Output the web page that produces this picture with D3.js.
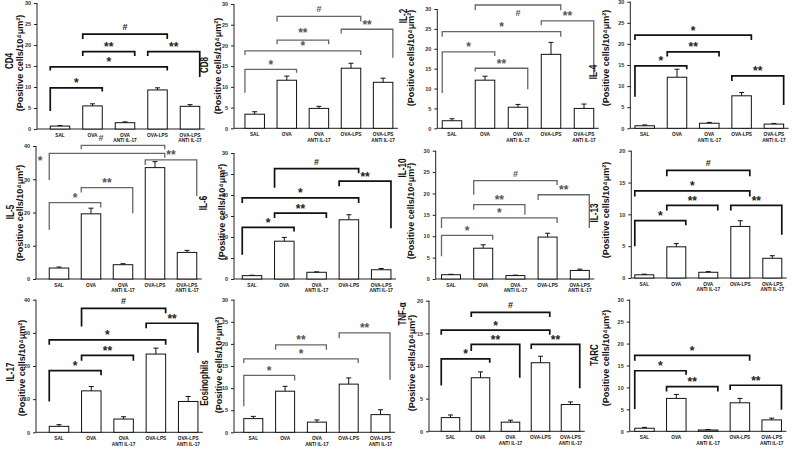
<!DOCTYPE html>
<html><head><meta charset="utf-8">
<script src="https://cdn.jsdelivr.net/npm/d3@7"></script>
<style>body{margin:0;background:#fff}svg{display:block}text{font-family:Arial,"Liberation Sans",sans-serif;font-weight:bold}</style>
</head><body><svg id="c" width="797" height="449"></svg>
<script>
const categories = ["SAL","OVA","OVA\nANTI IL-17","OVA-LPS","OVA-LPS\nANTI IL-17"];
const yUnit = "(Positive cells/10⁴μm²)";

const cd4Mean=[0.7,5.5,1.5,9.3,5.4],    cd4Err=[0.1,0.5,0.2,0.5,0.4];
const cd8Mean=[3.4,11.6,4.8,14.5,11.1], cd8Err=[0.6,1.0,0.5,1.2,1.0];
const il2Mean=[1.9,12.1,5.3,18.6,5.0],  il2Err=[0.5,1.0,0.7,3.0,1.1];
const il4Mean=[0.6,12.1,1.2,7.7,1.0],   il4Err=[0.2,1.9,0.2,0.8,0.15];
const il5Mean=[3.3,19.6,4.3,33.5,8.0],  il5Err=[0.3,1.7,0.3,1.8,0.6];
const il6Mean=[0.8,9.0,1.6,14.1,2.2],   il6Err=[0.1,0.9,0.1,1.2,0.3];
const il10Mean=[1.0,7.2,0.8,9.8,2.0],   il10Err=[0.1,0.8,0.1,0.9,0.3];
const il13Mean=[0.5,4.9,0.9,8.1,3.1],   il13Err=[0.1,0.5,0.1,0.9,0.4];
const il17Mean=[1.8,12.5,4.0,23.6,9.3], il17Err=[0.5,1.3,0.7,1.8,1.5];
const eosMean=[3.1,9.3,2.3,10.9,4.0],   eosErr=[0.5,1.1,0.5,1.4,1.1];
const tnfMean=[2.1,8.2,1.4,10.5,4.1],   tnfErr=[0.4,0.9,0.3,1.0,0.4];
const tarcMean=[0.7,7.5,0.3,6.5,2.6],   tarcErr=[0.2,0.9,0.1,1.0,0.4];

const ticks30=[0,5,10,15,20,25,30], ticks40=[0,10,20,30,40], ticks20=[0,5,10,15,20];

// [label, fromGroup, toGroup, level, leftFoot, rightFoot]
const cd4Sig=[["*",0,1,9.8,4.3,8.9],["*",0,3,14.8,13.9,13.9],["**",1,2,18.4,17.4,17.4],["#",1,3,22.6,21.4,21.4],["**",3,4,18.4,17.4,12.4]];
const cd8Sig=[["*",0,1,14.2,8.6,13.4],["*",0,3,18.7,17.7,17.7],["**",1,2,21.3,20.3,20.3],["#",1,3,27.0,25.8,25.8],["**",3,4,23.9,22.9,17]];
const il2Sig=[["*",0,1,19.2,8.9,18.2],["**",1,2,15.1,14.3,9.8],["*",0,3,24.3,23.0,23.0],["#",1,3,31.0,29.7,29.7],["**",3,4,27.0,25.9,13]];
const il4Sig=[["*",0,1,14.8,7.5,14.0],["**",1,2,18.1,17.0,17.0],["*",0,3,22.1,20.9,20.9],["**",3,4,12.4,11.2,5.5]];
const il5Sig=[["*",0,1,23.0,14.8,21.5],["**",1,2,27.5,26.0,19.8],["*",0,3,37.8,29.8,36.5],["#",1,3,40.2,39,39],["**",3,4,35.8,34.3,25]];
const il6Sig=[["*",0,1,12.3,5.8,11.3],["**",1,2,15.7,14.5,14.5],["*",0,3,19.3,18.1,18.1],["#",1,3,26.3,21.7,25.2],["**",3,4,23.3,22.1,12.1]];
const il10Sig=[["*",0,1,10.2,5.3,9.2],["*",0,3,14.3,11.9,13.1],["**",1,2,17.4,16.2,15.0],["#",1,3,23.0,19.7,22.0],["**",3,4,19.7,18.5,11.9]];
const il13Sig=[["*",0,1,9.0,5.0,8.3],["**",1,2,11.4,10.6,10.6],["*",0,3,13.7,12.8,12.8],["#",1,3,16.9,16.0,16.0],["**",3,4,11.4,10.6,6.8]];
const il17Sig=[["*",0,1,18.6,9.3,17.2],["**",1,2,23.2,21.6,21.6],["*",0,3,27.9,26.4,26.4],["#",1,3,37.4,31.9,35.9],["**",3,4,32.9,31.4,24]];
const eosSig=[["*",0,1,12.9,5.9,11.7],["*",0,3,16.6,15.7,15.7],["**",1,2,19.8,18.7,18.7],["**",3,4,22.5,21.3,11.9]];
const tnfSig=[["*",0,1,11.1,7.0,10.5],["**",1,2,13.3,12.3,8.2],["*",0,3,15.5,14.8,14.8],["#",1,3,18.2,17.5,17.5],["**",3,4,13.3,12.6,6.6]];
const tarcSig=[["*",0,1,13.8,5.1,12.9],["**",1,2,10.2,9.1,9.1],["*",0,3,17.3,16.1,16.1],["**",3,4,10.5,9.4,4.9]];

// layout (positions / styles only)
const BLK="#111", GRY="#666";
const panels=[
 {t:"CD4",m:cd4Mean,e:cd4Err,tk:ticks30,s:cd4Sig,ax:37,y0:129,yt:3,off:23,st:32.5,bw:19.5,c:BLK,tp:[9,61],sp:[20,63]},
 {t:"CD8",m:cd8Mean,e:cd8Err,tk:ticks30,s:cd8Sig,ax:234,y0:128.3,yt:4,off:20.7,st:32.1,bw:19.5,c:GRY,tp:[204,65],sp:[218,66],lo:{2:[0,-2.5]}},
 {t:"IL-2",m:il2Mean,e:il2Err,tk:ticks30,s:il2Sig,ax:437.3,y0:128.3,yt:9,off:14.7,st:33,bw:19.5,c:GRY,tp:[403,16],sp:[411,58],lo:{3:[0,15]}},
 {t:"IL-4",m:il4Mean,e:il4Err,tk:ticks30,s:il4Sig,ax:630.3,y0:128.3,yt:1.7,off:14.4,st:32.3,bw:19.5,c:BLK,tp:[593,72],sp:[606,58]},
 {t:"IL-5",m:il5Mean,e:il5Err,tk:ticks40,s:il5Sig,ax:36,y0:279,yt:146,off:23,st:32,bw:19.5,c:GRY,tp:[10,212],sp:[20,213],lo:{2:[-67,12],3:[-22,0]}},
 {t:"IL-6",m:il6Mean,e:il6Err,tk:ticks30,s:il6Sig,ax:234,y0:279,yt:153,off:18,st:32.3,bw:19.5,c:BLK,tp:[203,203],sp:[222,212]},
 {t:"IL-10",m:il10Mean,e:il10Err,tk:ticks30,s:il10Sig,ax:435.7,y0:279,yt:150.7,off:15.3,st:32.2,bw:19,c:GRY,tp:[402,168],sp:[411,211]},
 {t:"IL-13",m:il13Mean,e:il13Err,tk:ticks20,s:il13Sig,ax:631.3,y0:278,yt:150.7,off:13,st:32,bw:19,c:BLK,tp:[594,213],sp:[606,210]},
 {t:"IL-17",m:il17Mean,e:il17Err,tk:ticks40,s:il17Sig,ax:36,y0:432.3,yt:299.7,off:23,st:32.3,bw:19.5,c:BLK,tp:[10,372],sp:[22,368]},
 {t:"Eosinophils",m:eosMean,e:eosErr,tk:ticks30,s:eosSig,ax:234,y0:432.3,yt:299.7,off:19.3,st:31.8,bw:19,c:GRY,tp:[204,383],sp:[219,365]},
 {t:"TNF-α",m:tnfMean,e:tnfErr,tk:ticks20,s:tnfSig,ax:429,y0:431.3,yt:300.7,off:21.5,st:30,bw:18.5,c:BLK,tp:[402,314],sp:[412,363]},
 {t:"TARC",m:tarcMean,e:tarcErr,tk:ticks30,s:tarcSig,ax:629.7,y0:431.3,yt:299.7,off:14.8,st:31.8,bw:19.5,c:BLK,tp:[594,355],sp:[606,358]}
];

const svg=d3.select("#c");
svg.append("rect").attr("width",797).attr("height",449).attr("fill","#fff");

panels.forEach(p=>{
  const g=svg.append("g");
  const y=d3.scaleLinear().domain([0,d3.max(p.tk)]).range([p.y0,p.yt]);
  const x=d3.scalePoint().domain(categories).range([p.ax+p.off,p.ax+p.off+4*p.st]);
  const xEnd=x(categories[4])+p.bw/2+5;

  const ya=g.append("g").attr("transform",`translate(${p.ax},0)`)
    .call(d3.axisLeft(y).tickValues(p.tk).tickSize(3).tickPadding(3).tickFormat(d3.format("d")));
  ya.select(".domain").attr("stroke","#222").attr("stroke-width",1).attr("d",`M0,${p.y0}V${p.yt}`);
  ya.selectAll(".tick line").attr("stroke","#222");
  ya.selectAll(".tick text").attr("font-size",5.5).attr("fill","#333").attr("font-family","Arial, Liberation Sans, sans-serif").attr("font-weight","bold");
  g.append("line").attr("x1",p.ax).attr("x2",xEnd).attr("y1",p.y0).attr("y2",p.y0).attr("stroke","#222").attr("stroke-width",1);

  g.selectAll(".bar").data(categories).enter().append("rect")
    .attr("x",c=>x(c)-p.bw/2).attr("y",(c,i)=>y(p.m[i]))
    .attr("width",p.bw).attr("height",(c,i)=>p.y0-y(p.m[i]))
    .attr("fill","#fff").attr("stroke","#111").attr("stroke-width",1);
  g.selectAll(".err").data(categories).enter().append("path")
    .attr("d",(c,i)=>{const xc=x(c),yt=y(p.m[i]+p.e[i]);return `M${xc},${y(p.m[i])}V${yt}M${xc-2.5},${yt}H${xc+2.5}`;})
    .attr("stroke","#111").attr("stroke-width",1).attr("fill","none");

  categories.forEach(c=>{
    c.split("\n").forEach((ln,k)=>{
      g.append("text").attr("transform",`translate(${x(c)},${p.y0+8+k*5.3}) scale(0.82,1)`)
        .attr("text-anchor","middle").attr("font-size",5.8).attr("fill","#111").text(ln);
    });
  });

  p.s.forEach((b,k)=>{
    const [lab,a,bb,lv,lf,rf]=b;
    const x1=x(categories[a])-p.bw/2, x2=x(categories[bb])+p.bw/2;
    g.append("path").attr("d",`M${x1},${y(lf)}V${y(lv)}H${x2}V${y(rf)}`)
      .attr("fill","none").attr("stroke",p.c).attr("stroke-width",p.c===BLK?1.7:1.3);
    const o=(p.lo&&p.lo[k])||[0,0];
    const isH=lab==="#";
    g.append("text").attr("x",(x1+x2)/2+o[0]).attr("y",y(lv)-(isH?4:0.5)+o[1])
      .attr("text-anchor","middle").attr("font-size",isH?9:12).attr("font-weight","normal")
      .attr("fill",p.c===BLK?"#222":"#555").text(lab);
  });

  g.append("text").attr("transform",`translate(${p.tp[0]},${p.tp[1]}) rotate(-90) scale(0.7,1)`)
    .attr("text-anchor","middle").attr("dominant-baseline","central").attr("font-size",11.5).attr("fill","#111").text(p.t);
  g.append("text").attr("transform",`translate(${p.sp[0]},${p.sp[1]}) rotate(-90)`)
    .attr("text-anchor","middle").attr("dominant-baseline","central").attr("font-size",9).attr("fill","#111").text(yUnit);
});
</script></body></html>
